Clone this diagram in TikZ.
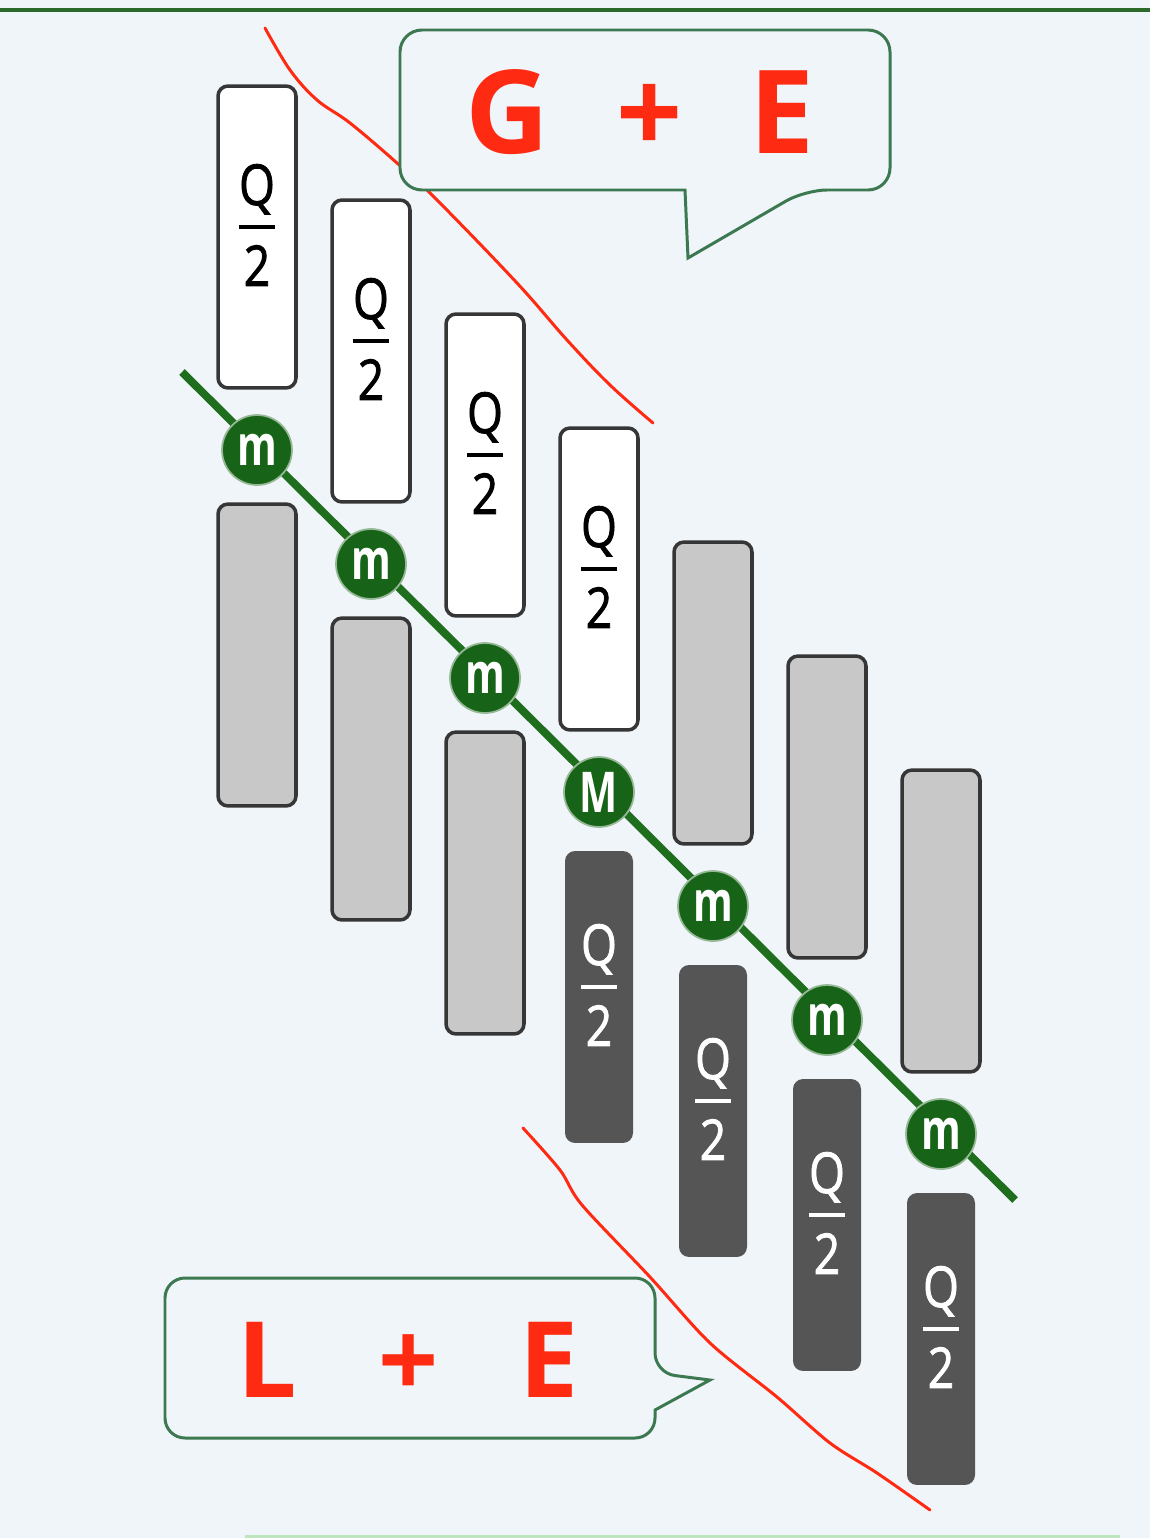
\documentclass[tikz,border=0pt]{standalone}
\usepackage{fontspec}
\usepackage{graphicx}
\setmainfont{Open Sans}
\newfontfamily\qfont[FakeBold=1.6]{Open Sans}
\definecolor{paper}{HTML}{F0F5FA}
\definecolor{rimgreen}{HTML}{2B6A2B}
\definecolor{tiegreen}{HTML}{1E6E1E}
\definecolor{beadgreen}{HTML}{176317}
\definecolor{callgreen}{HTML}{3C7850}
\definecolor{phasered}{HTML}{FF2A12}
\definecolor{slabedge}{HTML}{363636}
\definecolor{slabmid}{HTML}{C8C8C8}
\definecolor{slabdark}{HTML}{555555}
\newcommand{\slabw}{1.56cm}
\newcommand{\slabh}{6.04cm}
\newcommand{\halfQ}{\scalebox{0.82}[1]{\shortstack{Q\\[3pt]\rule{25pt}{2.5pt}\\[6pt]2}}}
\newcommand{\beadtext}[1]{\scalebox{0.72}[1]{#1}}

\begin{document}
\begin{tikzpicture}[x=0.02cm, y=-0.02cm]
                \tikzset{
                    slab/.style = {rectangle, rounded corners=0.2cm, minimum width=\slabw, minimum height=\slabh, inner sep=0pt, line width=2pt, draw=slabedge},
                    gasslab/.style = {slab, fill=white},
                    mixslab/.style = {slab, fill=slabmid},
                    liqslab/.style = {slab, draw=none, fill=slabdark, minimum width=1.36cm, minimum height=5.84cm},
                    qlabel/.style = {yshift=0.24cm, inner sep=0pt, font=\qfont\fontsize{32}{32}\selectfont},
                    qlabelw/.style = {qlabel, text=white},
                    bead/.style = {circle, fill=beadgreen, draw=beadgreen!45, line width=1pt, minimum size=1.4cm, inner sep=0pt, text=white, font=\fontsize{32}{32}\selectfont\bfseries},
                    tieline/.style = {draw=tiegreen, line width=4.5pt},
                    callout/.style = {draw=callgreen, line width=1.7pt, fill=paper},
                    phase/.style = {text=phasered, inner sep=0pt, font=\fontsize{66}{66}\selectfont\bfseries},
                    boundary/.style = {draw=phasered, line width=1.7pt, line cap=round, line join=round}
                }
                \fill[paper] (0,0) rectangle (1150,1538);
                \useasboundingbox (0,0) rectangle (1150,1538);
                \draw[rimgreen, line width=2.3pt] (0,10) -- (1150,10);
                \draw[green!60!black!25, line width=1.7pt] (245,1536) -- (1120,1536);

                % tie line through the beads
                \coordinate (tieA) at (182,372);
                \coordinate (tieB) at (1015,1200);
                \draw[tieline] (tieA) -- (tieB);

                \begin{scope}[shift={(257,0)}]
                    \node[gasslab, label={[qlabel]center:\halfQ}] (top1) at (0,237) {};
                    \node[bead] (bead1) at (0,450) {\beadtext{m}};
                    \node[mixslab] (bot1) at (0,655) {};
                \end{scope}
                \begin{scope}[shift={(371,114)}]
                    \node[gasslab, label={[qlabel]center:\halfQ}] (top2) at (0,237) {};
                    \node[bead] (bead2) at (0,450) {\beadtext{m}};
                    \node[mixslab] (bot2) at (0,655) {};
                \end{scope}
                \begin{scope}[shift={(485,228)}]
                    \node[gasslab, label={[qlabel]center:\halfQ}] (top3) at (0,237) {};
                    \node[bead] (bead3) at (0,450) {\beadtext{m}};
                    \node[mixslab] (bot3) at (0,655) {};
                \end{scope}
                \begin{scope}[shift={(599,342)}]
                    \node[gasslab, label={[qlabel]center:\halfQ}] (top4) at (0,237) {};
                    \node[bead] (bead4) at (0,450) {\beadtext{M}};
                    \node[liqslab, label={[qlabelw]center:\halfQ}] (bot4) at (0,655) {};
                \end{scope}
                \begin{scope}[shift={(713,456)}]
                    \node[mixslab] (top5) at (0,237) {};
                    \node[bead] (bead5) at (0,450) {\beadtext{m}};
                    \node[liqslab, label={[qlabelw]center:\halfQ}] (bot5) at (0,655) {};
                \end{scope}
                \begin{scope}[shift={(827,570)}]
                    \node[mixslab] (top6) at (0,237) {};
                    \node[bead] (bead6) at (0,450) {\beadtext{m}};
                    \node[liqslab, label={[qlabelw]center:\halfQ}] (bot6) at (0,655) {};
                \end{scope}
                \begin{scope}[shift={(941,684)}]
                    \node[mixslab] (top7) at (0,237) {};
                    \node[bead] (bead7) at (0,450) {\beadtext{m}};
                    \node[liqslab, label={[qlabelw]center:\halfQ}] (bot7) at (0,655) {};
                \end{scope}

                % phase boundaries
                \draw[boundary] plot[smooth, tension=0.6] coordinates {(265,28) (290,70) (317,100) (350,123) (397,163) (437,200) (517,283) (567,340) (610,385) (653,423)};
                \draw[boundary] plot[smooth, tension=0.5] coordinates {(523,1128) (560,1170) (582,1205) (650,1277) (710,1343) (777,1397) (830,1443) (877,1473) (930,1510)};

                % callouts
                \draw[callout] (400,110) [rounded corners=0.44cm] -- (400,30) -- (890,30) -- (890,190) -- (805,190)
                    [sharp corners] -- (688,258) -- (685,190) -- (660,190) [rounded corners=0.44cm] -- (400,190) -- cycle;
                \node[phase] (gasphase) at (640,112) {G\hspace{38pt}+\hspace{38pt}E};
                \draw[callout] (165,1360) [rounded corners=0.4cm] -- (165,1278) -- (655,1278) -- (655,1373)
                    [sharp corners] -- (710,1380) -- (655,1410) -- (655,1415) [rounded corners=0.4cm] -- (655,1438) -- (165,1438) -- cycle;
                \node[phase, font=\fontsize{60}{60}\selectfont\bfseries] (liqphase) at (408,1360) {L\hspace{46pt}+\hspace{46pt}E};

        \end{tikzpicture}
\end{document}
